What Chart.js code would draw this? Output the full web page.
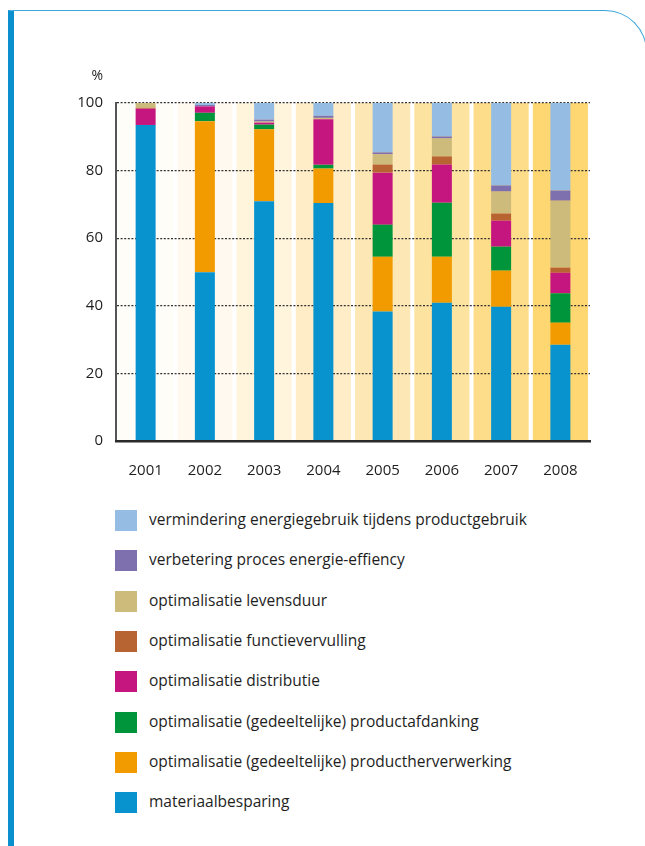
<!DOCTYPE html>
<html>
<head>
<meta charset="utf-8">
<title>Productinnovatie</title>
<script src="https://cdn.jsdelivr.net/npm/chart.js@4"></script>
<style>
body { margin:0; background:#fff; font-family:"Open Sans", sans-serif; color:#1e1e1e; }
.page { position:relative; width:645px; height:846px; overflow:hidden; }
.frame { position:absolute; left:8px; top:10px; width:639px; height:900px; box-sizing:border-box;
  border-left:6px solid #0a90cf; border-top:1.5px solid #3ba7da; border-right:1.5px solid #3ba7da;
  border-top-right-radius:42px; }
#chart { position:absolute; left:0; top:0; }
.unit { position:absolute; left:70px; top:65px; width:33px; text-align:right; font-size:14px; }
.legend { position:absolute; left:0; top:0; margin:0; padding:0; list-style:none; }
.legend li { position:absolute; left:115px; height:21px; white-space:nowrap; }
.legend .box { position:absolute; left:0; top:0; width:22px; height:21px; }
.legend .txt { position:absolute; left:34px; top:-1px; line-height:21px; font-size:15.5px; }
</style>
</head>
<body>
<div class="page">
  <div class="frame"></div>
  <canvas id="chart" width="645" height="490"></canvas>
  <div class="unit">%</div>
  <ul class="legend"></ul>
</div>
<script>
const years = ['2001', '2002', '2003', '2004', '2005', '2006', '2007', '2008']

// values in %, bottom of the stack first
const materiaalbesparing   = [93.5, 49.9, 70.9, 70.4, 38.3, 40.9, 39.7, 28.5]
const productherverwerking = [0, 44.7, 21.3, 10.2, 16.2, 13.6, 10.7, 6.5]
const productafdanking     = [0, 2.5, 1.4, 1.1, 9.5, 16.0, 7.1, 8.7]
const distributie          = [4.8, 1.9, 0.6, 13.5, 15.4, 11.3, 7.7, 6.1]
const functievervulling    = [0.3, 0, 0, 0, 2.4, 2.4, 2.1, 1.5]
const levensduur           = [1.4, 0, 0.3, 0.4, 3.0, 5.3, 6.5, 19.8]
const proces_energie       = [0, 0.4, 0.6, 0.6, 0.6, 0.6, 1.8, 3.0]
const energie_productgebruik = [0, 0.6, 4.9, 3.8, 14.6, 9.9, 24.4, 25.9]

const series_names = [
  'materiaalbesparing',
  'optimalisatie (gedeeltelijke) productherverwerking',
  'optimalisatie (gedeeltelijke) productafdanking',
  'optimalisatie distributie',
  'optimalisatie functievervulling',
  'optimalisatie levensduur',
  'verbetering proces energie-effiency',
  'vermindering energiegebruik tijdens productgebruik'
]
const series_values = [materiaalbesparing, productherverwerking, productafdanking, distributie,
  functievervulling, levensduur, proces_energie, energie_productgebruik]
const series_colors = ['#0893cf', '#f29b00', '#00953a', '#c5157f', '#b86332', '#cdbb7b', '#7e70ae', '#95bce3']
const band_colors = ['#fffdf8', '#fff9f0', '#fff4dc', '#ffedc8', '#fde8b5', '#fde3a0', '#fedd8a', '#fed672']

const font = { family: '"Open Sans", sans-serif', size: 15 }

// pale yellow column behind each year
const bands_plugin = {
  id: 'bands',
  beforeDraw(chart) {
    const ctx = chart.ctx
    const area = chart.chartArea
    const x = chart.scales.x
    const step = x.getPixelForValue(1) - x.getPixelForValue(0)
    ctx.save()
    years.forEach((y, i) => {
      const cx = x.getPixelForValue(i)
      ctx.fillStyle = band_colors[i]
      ctx.fillRect(cx - step * 0.465, area.top, step * 0.93, area.bottom - area.top)
    })
    ctx.restore()
  }
}

const datasets = series_values.map((vals, i) => ({
  label: series_names[i],
  data: vals,
  backgroundColor: series_colors[i],
  borderWidth: 0,
  barPercentage: 0.3375,
  categoryPercentage: 1
}))

new Chart(document.querySelector('#chart'), {
  type: 'bar',
  data: { labels: years, datasets: datasets },
  plugins: [bands_plugin],
  options: {
    responsive: false,
    animation: false,
    layout: { padding: { left: 0, right: 55, top: 103, bottom: 0 } },
    plugins: { legend: { display: false }, tooltip: { enabled: false } },
    scales: {
      x: {
        stacked: true,
        grid: { display: false },
        border: { display: true, color: '#2a2a2a', width: 2.5, z: 1 },
        ticks: { color: '#1e1e1e', font: font, padding: 13 },
        afterFit: (s) => { s.height = 49 }
      },
      y: {
        stacked: true,
        min: 0,
        max: 100,
        ticks: { stepSize: 20, padding: 13, color: '#1e1e1e', font: font },
        grid: { color: '#333', lineWidth: 1.2, drawTicks: false },
        border: { display: true, color: '#555', width: 2, dash: [2, 1.6] },
        afterFit: (s) => { s.width = 116 }
      }
    }
  }
})

// legend, top of the stack first
const legend = document.querySelector('.legend')
for (let i = series_names.length - 1; i >= 0; i--) {
  const k = series_names.length - 1 - i
  const li = document.createElement('li')
  li.style.top = (510 + k * 40.3) + 'px'
  li.innerHTML = '<span class="box"></span><span class="txt"></span>'
  li.querySelector('.box').style.background = series_colors[i]
  li.querySelector('.txt').textContent = series_names[i]
  legend.appendChild(li)
}
</script>
</body>
</html>
